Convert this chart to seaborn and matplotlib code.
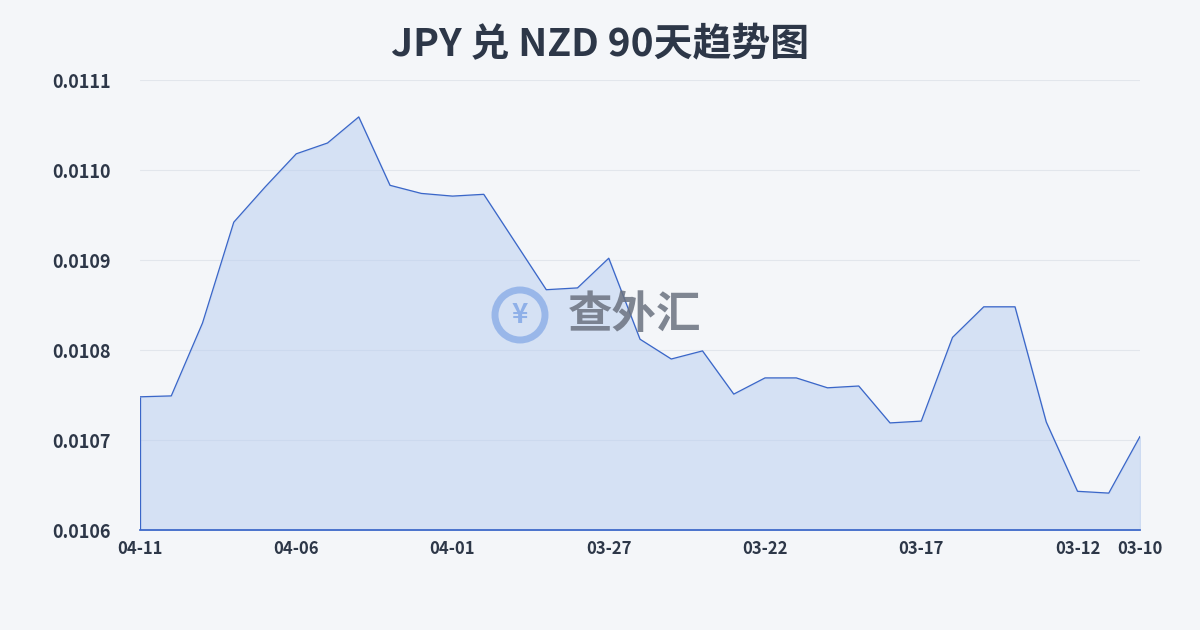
import matplotlib
matplotlib.use("Agg")
import matplotlib.pyplot as plt
from matplotlib.patches import Ellipse
import seaborn as sns
import pandas as pd
import numpy as np

dates = pd.date_range("2025-03-10", "2025-04-11", freq="D")[::-1]
values = [0.010748, 0.010749, 0.010830, 0.010942, 0.010981, 0.011018, 0.011030, 0.011059,
          0.010983, 0.010974, 0.010971, 0.010973, 0.010920, 0.010867, 0.010869, 0.010902,
          0.010812, 0.010790, 0.010799, 0.010751, 0.010769, 0.010769, 0.010758, 0.010760,
          0.010719, 0.010721, 0.010814, 0.010848, 0.010848, 0.010720, 0.010643, 0.010641,
          0.010704]
tick_labels = ["04-11", "04-06", "04-01", "03-27", "03-22", "03-17", "03-12", "03-10"]
yticks = [0.0106, 0.0107, 0.0108, 0.0109, 0.0110, 0.0111]

df = pd.DataFrame({"date": dates, "value": values})
df["pos"] = np.arange(len(df))

sns.set_theme(style="white")
plt.rcParams["font.family"] = ["Noto Sans CJK SC", "DejaVu Sans"]

fig = plt.figure(figsize=(12, 6.3), dpi=100)
fig.patch.set_facecolor("#f4f6f9")
ax = fig.add_axes([140/1200, 1-530/630, 1000/1200, 450/630])
ax.set_facecolor("none")

sns.lineplot(data=df, x="pos", y="value", ax=ax, color="#3a66c8", linewidth=0.9)
ax.fill_between(df["pos"], df["value"], 0.0106, color="#b8cdf0", alpha=0.5)
ax.vlines([0], 0.0106, values[0], color="#3a66c8", linewidth=0.9)

ax.set_xlim(0, len(df)-1)
ax.set_ylim(0.0106, 0.0111)
label_to_pos = {d.strftime("%m-%d"): p for d, p in zip(df["date"], df["pos"])}
ax.set_xticks([label_to_pos[t] for t in tick_labels])
ax.set_xticklabels(tick_labels, fontsize=12, fontweight="bold", color="#2d3748")
ax.set_yticks(yticks)
ax.set_yticklabels([f"{v:.4f}" for v in yticks], fontsize=13, fontweight="bold", color="#2d3748")
ax.tick_params(axis="y", length=0, pad=63)
for lab in ax.get_yticklabels():
    lab.set_horizontalalignment("left")
ax.tick_params(axis="x", length=4, color="#3a66c8")
ax.yaxis.grid(True, color="#e2e6ec", linewidth=0.8)
ax.set_xlabel(""); ax.set_ylabel("")
for s in ["top", "right", "left"]:
    ax.spines[s].set_visible(False)
ax.spines["bottom"].set_color("#3a66c8")

fig.text(0.5, 1-45/630, "JPY 兑 NZD 90天趋势图", ha="center", va="center",
         fontsize=28, fontweight="bold", color="#2d3748")

# watermark
cx, cy = 520/1200, 1-315/630
fig.add_artist(Ellipse((cx, cy), 50/1200, 50/630, transform=fig.transFigure,
                       fill=False, edgecolor="#8fb0e8", linewidth=5, alpha=0.85))
fig.text(cx, cy, "¥", ha="center", va="center", fontsize=20,
         fontweight="bold", color="#8fb0e8")
fig.text(635/1200, cy, "查外汇", ha="center", va="center", fontsize=32,
         fontweight="bold", color="#6b7280", alpha=0.85)

fig.savefig("out.png", dpi=100, facecolor=fig.get_facecolor())
